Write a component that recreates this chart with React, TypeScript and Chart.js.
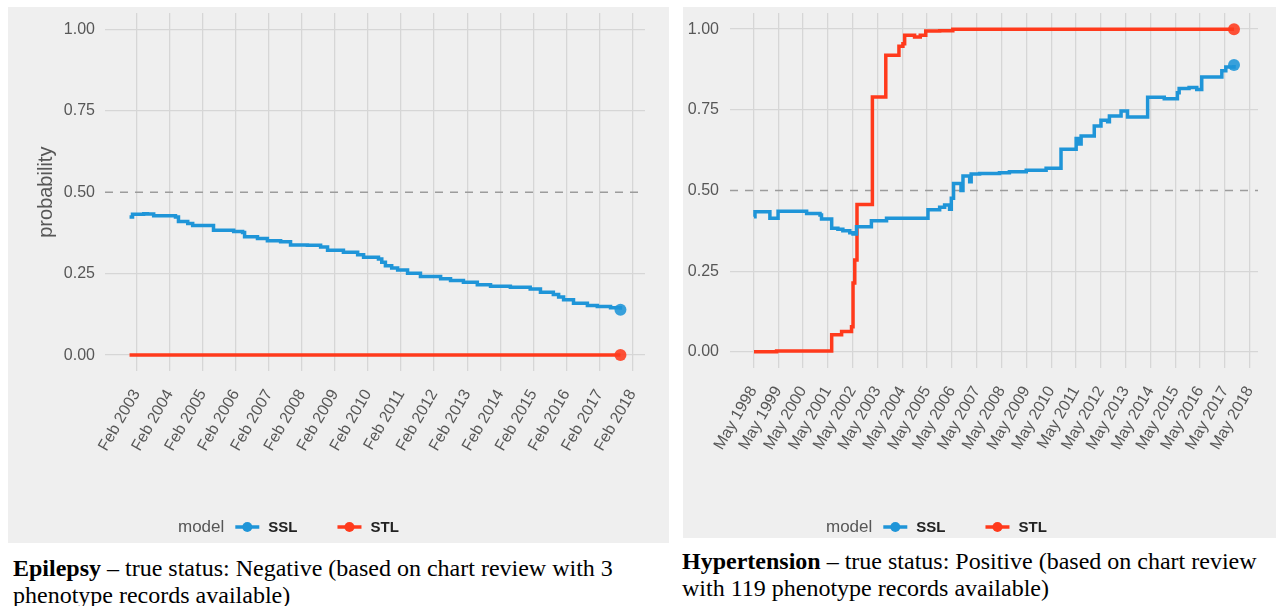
import React, { useEffect, useRef } from 'react';
import { Chart, registerables } from 'chart.js';

Chart.register(...registerables);

// ---------- shared ----------
const SSL_COLOR = '#1f95d8';
const STL_COLOR = '#ff3a1c';
const yTickValues = [0, 0.25, 0.5, 0.75, 1];
const yTickLabels = ['0.00', '0.25', '0.50', '0.75', '1.00'];
const thresholdValue = 0.5;

// ---------- Epilepsy panel ----------
const epiTickLabels = ['Feb 2003', 'Feb 2004', 'Feb 2005', 'Feb 2006', 'Feb 2007', 'Feb 2008', 'Feb 2009', 'Feb 2010', 'Feb 2011', 'Feb 2012', 'Feb 2013', 'Feb 2014', 'Feb 2015', 'Feb 2016', 'Feb 2017', 'Feb 2018'];
const epiTickYears = [2003, 2004, 2005, 2006, 2007, 2008, 2009, 2010, 2011, 2012, 2013, 2014, 2015, 2016, 2017, 2018];
const epiTickMonth = 1; // February (0-based month index)
const epiSslX = [2002.87, 2002.96, 2003.30, 2003.41, 2003.60, 2004.26, 2004.35, 2004.63, 2004.78, 2005.41, 2006.02, 2006.29, 2006.35, 2006.74, 2007.04, 2007.44, 2007.74, 2008.25, 2008.65, 2008.86, 2009.34, 2009.77, 2009.95, 2010.40, 2010.50, 2010.61, 2010.80, 2010.98, 2011.28, 2011.67, 2012.28, 2012.58, 2012.97, 2013.39, 2013.79, 2014.39, 2014.99, 2015.30, 2015.69, 2015.85, 2016.00, 2016.30, 2016.72, 2017.02, 2017.42, 2017.72];
const epiSslY = [0.424, 0.432, 0.434, 0.433, 0.428, 0.424, 0.410, 0.404, 0.398, 0.383, 0.379, 0.376, 0.363, 0.358, 0.351, 0.348, 0.338, 0.337, 0.332, 0.322, 0.316, 0.308, 0.300, 0.295, 0.285, 0.274, 0.267, 0.261, 0.251, 0.241, 0.234, 0.229, 0.224, 0.216, 0.211, 0.208, 0.203, 0.193, 0.186, 0.178, 0.170, 0.159, 0.152, 0.149, 0.145, 0.139];
const epiStlX = [2002.87, 2017.72];
const epiStlY = [0, 0];

// ---------- Hypertension panel ----------
const htnTickLabels = ['May 1998', 'May 1999', 'May 2000', 'May 2001', 'May 2002', 'May 2003', 'May 2004', 'May 2005', 'May 2006', 'May 2007', 'May 2008', 'May 2009', 'May 2010', 'May 2011', 'May 2012', 'May 2013', 'May 2014', 'May 2015', 'May 2016', 'May 2017', 'May 2018'];
const htnTickYears = [1998, 1999, 2000, 2001, 2002, 2003, 2004, 2005, 2006, 2007, 2008, 2009, 2010, 2011, 2012, 2013, 2014, 2015, 2016, 2017, 2018];
const htnTickMonth = 4; // May
const htnSslX = [1998.36, 1998.40, 1999.00, 1999.33, 2000.48, 2001.02, 2001.08, 2001.49, 2001.74, 2001.94, 2002.22, 2002.35, 2002.49, 2003.09, 2003.70, 2005.37, 2005.84, 2006.04, 2006.24, 2006.31, 2006.40, 2006.70, 2006.78, 2007.05, 2007.11, 2007.45, 2008.25, 2008.65, 2009.33, 2010.13, 2010.73, 2011.34, 2011.44, 2011.54, 2012.07, 2012.34, 2012.61, 2012.68, 2013.15, 2013.41, 2014.22, 2014.89, 2015.42, 2015.49, 2015.89, 2016.20, 2016.40, 2017.21, 2017.37, 2017.70];
const htnSslY = [0.419, 0.434, 0.414, 0.436, 0.429, 0.424, 0.412, 0.383, 0.380, 0.375, 0.369, 0.365, 0.388, 0.406, 0.414, 0.440, 0.448, 0.455, 0.442, 0.476, 0.522, 0.500, 0.545, 0.527, 0.551, 0.553, 0.555, 0.558, 0.563, 0.569, 0.628, 0.661, 0.644, 0.669, 0.700, 0.718, 0.713, 0.731, 0.746, 0.728, 0.789, 0.784, 0.803, 0.816, 0.819, 0.813, 0.852, 0.871, 0.883, 0.889];
const htnStlX = [1998.36, 1999.27, 2001.49, 2001.89, 2002.29, 2002.35, 2002.42, 2002.51, 2003.13, 2003.67, 2004.20, 2004.36, 2004.43, 2004.83, 2005.06, 2005.28, 2005.84, 2006.37, 2017.70];
const htnStlY = [0.000, 0.003, 0.053, 0.063, 0.078, 0.213, 0.285, 0.457, 0.790, 0.919, 0.947, 0.955, 0.981, 0.976, 0.981, 0.994, 0.995, 1.000, 1.000];

const TICK_FONT = '"Liberation Sans", Arial, sans-serif';
const GRID = '#d6d6d6';
const TEXT = '#575757';

const ggLegend = {
  id: 'ggLegend',
  afterDraw(chart: any, _args: any, opts: any) {
    const { ctx } = chart;
    ctx.save();
    ctx.textBaseline = 'middle';
    ctx.textAlign = 'left';
    ctx.font = `17px ${TICK_FONT}`;
    ctx.fillStyle = TEXT;
    ctx.fillText(opts.title, opts.x, opts.y);
    let x = opts.x + ctx.measureText(opts.title).width + 11;
    const items = chart.data.datasets.filter((d: any) => d.label === 'SSL' || d.label === 'STL');
    items.forEach((d: any) => {
      ctx.strokeStyle = d.borderColor;
      ctx.lineWidth = 3.5;
      ctx.beginPath();
      ctx.moveTo(x, opts.y);
      ctx.lineTo(x + 24, opts.y);
      ctx.stroke();
      ctx.fillStyle = d.borderColor;
      ctx.beginPath();
      ctx.arc(x + 12, opts.y, 5, 0, Math.PI * 2);
      ctx.fill();
      x += 24 + 9;
      ctx.font = `bold 15px ${TICK_FONT}`;
      ctx.fillStyle = '#222';
      ctx.fillText(d.label, x, opts.y + 1);
      x += ctx.measureText(d.label).width + 40;
    });
    ctx.restore();
  },
};

function toPoints(xs: number[], ys: number[]) {
  return xs.map((x, i) => ({ x, y: ys[i] }));
}

type PanelSpec = {
  left: number; top: number; width: number; height: number;
  tickLabels: string[]; tickYears: number[]; tickMonth: number;
  sslX: number[]; sslY: number[]; stlX: number[]; stlY: number[];
  yTitle: string | null;
  padTop: number; padRight: number; yWidth: number; xHeight: number; yTickPad: number; xTickPad: number;
  legendX: number; legendY: number;
};

function Panel({ spec }: { spec: PanelSpec }) {
  const ref = useRef<HTMLCanvasElement>(null);
  useEffect(() => {
    const canvas = ref.current!;
    const allX = [...spec.sslX, ...spec.stlX];
    const dMin = Math.min(...allX);
    const dMax = Math.max(...allX);
    const exp = (dMax - dMin) * 0.05;
    const xMin = dMin - exp;
    const xMax = dMax + exp;
    const lineDs = (label: string, color: string, xs: number[], ys: number[]) => ({
      label,
      data: toPoints(xs, ys),
      borderColor: color,
      backgroundColor: color,
      borderWidth: 3.5,
      stepped: true,
      pointRadius: (c: any) => (c.dataIndex === xs.length - 1 ? 6 : 0),
      pointBackgroundColor: color + 'e0',
      pointBorderWidth: 0,
      pointHoverRadius: 0,
      order: 1,
    });
    const chart = new Chart(canvas, {
      type: 'line',
      data: {
        datasets: [
          lineDs('SSL', SSL_COLOR, spec.sslX, spec.sslY),
          lineDs('STL', STL_COLOR, spec.stlX, spec.stlY),
          {
            label: '',
            data: [{ x: xMin, y: thresholdValue }, { x: xMax, y: thresholdValue }],
            borderColor: '#9c9c9c',
            borderWidth: 1.6,
            borderDash: [8, 7],
            pointRadius: 0,
            order: 10,
          } as any,
        ],
      },
      options: {
        animation: false,
        responsive: false,
        events: [],
        layout: { padding: { left: 0, top: spec.padTop, right: spec.padRight, bottom: 0 } },
        plugins: {
          legend: { display: false },
          tooltip: { enabled: false },
          ggLegend: { title: 'model', x: spec.legendX, y: spec.legendY },
        } as any,
        scales: {
          x: {
            type: 'linear',
            min: xMin,
            max: xMax,
            afterBuildTicks: (s: any) => {
              s.ticks = spec.tickYears.map((yr) => ({ value: yr + spec.tickMonth / 12 }));
            },
            afterFit: (s: any) => {
              s.height = spec.xHeight;
              s.paddingLeft = 0;
              s.paddingRight = 0;
            },
            ticks: {
              autoSkip: false,
              minRotation: 60,
              maxRotation: 60,
              padding: spec.xTickPad,
              color: TEXT,
              font: { family: TICK_FONT, size: 16 },
              callback: (_v: any, i: number) => spec.tickLabels[i],
            },
            grid: { color: GRID, lineWidth: 1.3, drawTicks: false },
            border: { display: false },
          },
          y: {
            type: 'linear',
            min: -0.05,
            max: 1.05,
            afterBuildTicks: (s: any) => {
              s.ticks = yTickValues.map((v) => ({ value: v }));
            },
            afterFit: (s: any) => {
              s.width = spec.yWidth;
              s.paddingTop = 0;
              s.paddingBottom = 0;
            },
            ticks: {
              padding: spec.yTickPad,
              color: TEXT,
              font: { family: TICK_FONT, size: 16 },
              callback: (_v: any, i: number) => yTickLabels[i],
            },
            grid: {
              color: (c: any) => (c.tick && c.tick.value === thresholdValue ? 'rgba(0,0,0,0)' : GRID),
              lineWidth: 1.3,
              drawTicks: false,
            },
            border: { display: false },
            title: {
              display: !!spec.yTitle,
              text: spec.yTitle || '',
              color: TEXT,
              font: { family: TICK_FONT, size: 20 },
              padding: { top: 26, bottom: 0 },
            },
          },
        },
      },
      plugins: [ggLegend],
    });
    return () => chart.destroy();
  }, []);
  return (
    <div style={{ position: 'absolute', left: spec.left, top: spec.top, width: spec.width, height: spec.height, background: '#efefef' }}>
      <canvas ref={ref} width={spec.width} height={spec.height} style={{ display: 'block' }} />
    </div>
  );
}

const epiSpec: PanelSpec = {
  left: 8, top: 7, width: 661, height: 536,
  tickLabels: epiTickLabels, tickYears: epiTickYears, tickMonth: epiTickMonth,
  sslX: epiSslX, sslY: epiSslY, stlX: epiStlX, stlY: epiStlY,
  yTitle: 'probability',
  padTop: 3.6, padRight: 24, yWidth: 97, xHeight: 171.6, yTickPad: 10, xTickPad: 15,
  legendX: 170, legendY: 520,
};

const htnSpec: PanelSpec = {
  left: 683, top: 7, width: 593, height: 531,
  tickLabels: htnTickLabels, tickYears: htnTickYears, tickMonth: htnTickMonth,
  sslX: htnSslX, sslY: htnSslY, stlX: htnStlX, stlY: htnStlY,
  yTitle: null,
  padTop: 5.8, padRight: 18, yWidth: 47, xHeight: 170, yTickPad: 11, xTickPad: 15,
  legendX: 143, legendY: 520,
};

const captionStyle: React.CSSProperties = {
  position: 'absolute',
  font: '24px "Liberation Serif", "Times New Roman", serif',
  lineHeight: '27px',
  color: '#000',
  whiteSpace: 'nowrap',
};

export default function App() {
  return (
    <div style={{ position: 'absolute', left: 0, top: 0, width: 1280, height: 606, overflow: 'hidden', background: '#fff' }}>
      <Panel spec={epiSpec} />
      <Panel spec={htnSpec} />
      <div style={{ ...captionStyle, left: 13, top: 555 }}>
        <b>Epilepsy</b> – true status: Negative (based on chart review with 3<br />phenotype records available)
      </div>
      <div style={{ ...captionStyle, left: 682, top: 548 }}>
        <b>Hypertension</b> – true status: Positive (based on chart review<br />with 119 phenotype records available)
      </div>
    </div>
  );
}
